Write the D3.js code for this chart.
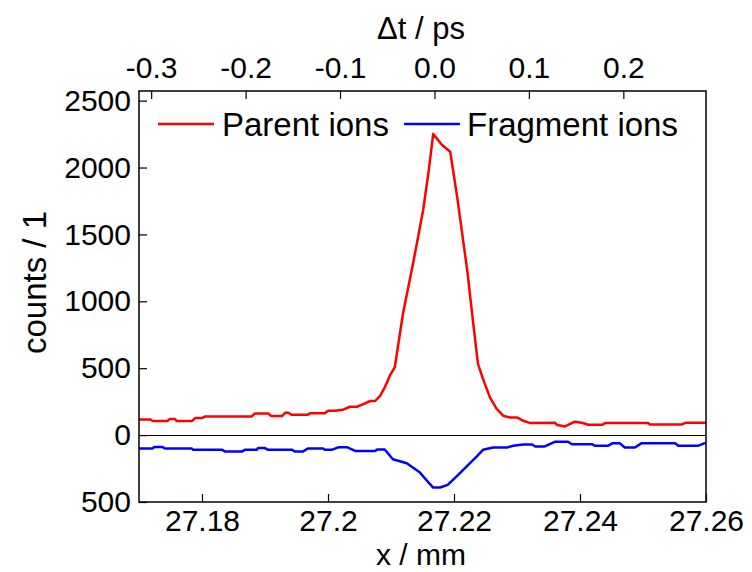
<!DOCTYPE html>
<html>
<head>
<meta charset="utf-8">
<script src="https://cdn.jsdelivr.net/npm/d3@7"></script>
<style>
  html, body { margin: 0; padding: 0; background: #fff; }
  svg { display: block; font-family: "Liberation Sans", Arial, sans-serif; }
</style>
</head>
<body>
<svg id="chart" width="752" height="572"></svg>
<script>
// Delay-stage position (mm) and ion counts
const parentX = [27.1700, 27.1718, 27.1722, 27.1745, 27.1749, 27.1757, 27.1760, 27.1784, 27.1789, 27.1800,
  27.1805, 27.1879, 27.1884, 27.1905, 27.1910, 27.1927, 27.1932, 27.1937, 27.1942, 27.1968,
  27.1972, 27.1995, 27.2000, 27.2011, 27.2024, 27.2035, 27.2046, 27.2056, 27.2067, 27.2075,
  27.2083, 27.2090, 27.2095, 27.2098, 27.2106, 27.2119, 27.2135, 27.2151, 27.2160, 27.2167,
  27.2181, 27.2194, 27.2205, 27.2221, 27.2230, 27.2238, 27.2246, 27.2257, 27.2268, 27.2278,
  27.2289, 27.2300, 27.2310, 27.2321, 27.2360, 27.2364, 27.2376, 27.2392, 27.2403, 27.2413,
  27.2435, 27.2440, 27.2508, 27.2511, 27.2562, 27.2567, 27.2600];
const parentCounts = [117, 117, 105, 105, 120, 120, 105, 105, 127, 127,
  140, 140, 162, 162, 142, 142, 167, 167, 152, 152,
  164, 164, 182, 182, 190, 212, 212, 232, 255, 255,
  295, 357, 407, 445, 507, 907, 1282, 1681, 1981, 2251,
  2168, 2118, 1781, 1231, 857, 532, 420, 282, 195, 145,
  132, 132, 107, 90, 92, 75, 65, 100, 92, 77,
  77, 90, 90, 80, 80, 92, 92];

// Fragment ions are drawn below the zero line (positive counts pointing down)
const fragmentX = [27.1700, 27.1721, 27.1725, 27.1737, 27.1741, 27.1784, 27.1786, 27.1832, 27.1837, 27.1863,
  27.1868, 27.1887, 27.1889, 27.1900, 27.1905, 27.1943, 27.1948, 27.1960, 27.1968, 27.1992,
  27.1995, 27.2006, 27.2014, 27.2019, 27.2030, 27.2043, 27.2075, 27.2078, 27.2090, 27.2103,
  27.2125, 27.2146, 27.2162, 27.2167, 27.2178, 27.2190, 27.2205, 27.2221, 27.2237, 27.2246,
  27.2262, 27.2284, 27.2294, 27.2310, 27.2324, 27.2329, 27.2344, 27.2360, 27.2381, 27.2387,
  27.2419, 27.2424, 27.2444, 27.2452, 27.2463, 27.2471, 27.2487, 27.2498, 27.2551, 27.2556,
  27.2587, 27.2598, 27.2600];
const fragmentCounts = [100, 100, 88, 88, 100, 100, 110, 110, 123, 123,
  110, 110, 97, 97, 110, 110, 123, 123, 100, 100,
  110, 110, 95, 90, 90, 118, 118, 108, 108, 180,
  210, 280, 367, 392, 392, 372, 305, 230, 155, 110,
  93, 93, 80, 70, 70, 85, 85, 50, 50, 68,
  68, 80, 80, 60, 60, 93, 93, 60, 60, 80,
  80, 60, 60];

const xTicks = [27.18, 27.2, 27.22, 27.24, 27.26];
const yTicks = [-500, 0, 500, 1000, 1500, 2000, 2500];
const dtTicks = [-0.3, -0.2, -0.1, 0.0, 0.1, 0.2];
const seriesNames = ["Parent ions", "Fragment ions"];
const seriesColors = ["#ff0000", "#0000ff"];

// Time-zero position and speed of light (mm/ps); the beam path is doubled
const x0 = 27.2169;
const c = 0.299792458;

const svg = d3.select("#chart");
const m = { left: 139, right: 706, top: 91, bottom: 502 };
const tickFont = 30;
const titleFont = 30;
const legendFont = 33;

const x = d3.scaleLinear().domain([27.17, 27.26]).range([m.left, m.right]);
const y = d3.scaleLinear().domain([-500, 2572]).range([m.bottom, m.top]);
const dtToX = d3.scaleLinear()
  .domain([2 * (27.17 - x0) / c, 2 * (27.26 - x0) / c])
  .range([m.left, m.right]);

// zero line
const y0 = Math.round(y(0)) + 0.5;
svg.append("line")
  .attr("x1", m.left).attr("x2", m.right)
  .attr("y1", y0).attr("y2", y0)
  .attr("stroke", "#000").attr("stroke-width", 1);

const line = d3.line().x(d => x(d[0])).y(d => y(d[1]));
const parent = parentX.map((v, i) => [v, parentCounts[i]]);
const fragment = fragmentX.map((v, i) => [v, -fragmentCounts[i]]);

svg.append("path").datum(parent).attr("d", line)
  .attr("fill", "none").attr("stroke", seriesColors[0])
  .attr("stroke-width", 2.5).attr("stroke-linejoin", "round");
svg.append("path").datum(fragment).attr("d", line)
  .attr("fill", "none").attr("stroke", seriesColors[1])
  .attr("stroke-width", 2.5).attr("stroke-linejoin", "round");

// axes with inward ticks
const bottomAxis = d3.axisBottom(x).tickValues(xTicks).tickFormat(d3.format("")).tickSizeInner(-8).tickSizeOuter(0).tickPadding(8);
const leftAxis = d3.axisLeft(y).tickValues(yTicks).tickFormat(d => Math.abs(d)).tickSizeInner(-8).tickSizeOuter(0).tickPadding(8);
const topAxis = d3.axisTop(dtToX).tickValues(dtTicks).tickFormat(d3.format(".1f")).tickSizeInner(-8).tickSizeOuter(0).tickPadding(13);

function style(g) {
  g.select(".domain").remove();
  g.selectAll(".tick line").attr("stroke", "#000").attr("stroke-width", 1.2);
  g.selectAll(".tick text").attr("fill", "#000").style("font-size", tickFont + "px")
    .style("font-family", '"Liberation Sans", Arial, sans-serif');
}
svg.append("g").attr("transform", `translate(0,${m.bottom})`).call(bottomAxis).call(style);
svg.append("g").attr("transform", `translate(${m.left},0)`).call(leftAxis).call(style);
svg.append("g").attr("transform", `translate(0,${m.top})`).call(topAxis).call(style);
svg.selectAll(".tick text").filter(function () { return this.textContent.startsWith("−"); })
  .text(function () { return this.textContent.replace("−", "-"); });

// frame
svg.append("rect")
  .attr("x", m.left).attr("y", m.top)
  .attr("width", m.right - m.left).attr("height", m.bottom - m.top)
  .attr("fill", "none").attr("stroke", "#000").attr("stroke-width", 1.5);

// axis titles
svg.append("text").attr("x", 421).attr("y", 565).attr("text-anchor", "middle")
  .style("font-size", titleFont + "px").text("x / mm");
svg.append("text").attr("x", 421).attr("y", 39).attr("text-anchor", "middle")
  .style("font-size", (titleFont + 1) + "px").text("Δt / ps");
svg.append("text").attr("transform", `translate(46,${(m.top + m.bottom) / 2 - 14}) rotate(-90)`)
  .attr("text-anchor", "middle").style("font-size", (titleFont + 3) + "px").text("counts / 1");

// legend
const legend = svg.append("g");
const legendItems = [{ lx: 158, tx: 222 }, { lx: 404, tx: 467 }];
seriesNames.forEach((name, i) => {
  legend.append("line")
    .attr("x1", legendItems[i].lx).attr("x2", legendItems[i].lx + 56)
    .attr("y1", 124).attr("y2", 124)
    .attr("stroke", seriesColors[i]).attr("stroke-width", 2.5);
  legend.append("text").attr("x", legendItems[i].tx).attr("y", 136)
    .style("font-size", legendFont + "px").text(name);
});
</script>
</body>
</html>
